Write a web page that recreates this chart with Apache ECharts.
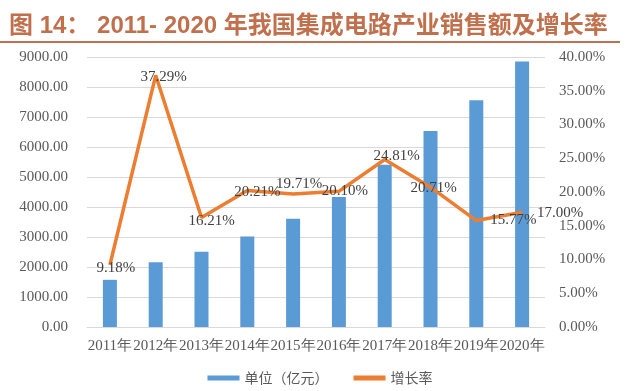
<!DOCTYPE html>
<html><head><meta charset="utf-8">
<script src="https://cdn.jsdelivr.net/npm/echarts@6/dist/echarts.min.js"></script>
<style>html,body{margin:0;padding:0;background:#fff;}#c{width:640px;height:391px;}</style>
</head><body><div id="c"></div>
<script>
const categories = ['2011年','2012年','2013年','2014年','2015年','2016年','2017年','2018年','2019年','2020年'];
const sales = [1572.4, 2158.5, 2508.5, 3015.4, 3609.8, 4335.5, 5411.3, 6532.0, 7562.3, 8848.0];
const growth = [9.18, 37.29, 16.21, 20.21, 19.71, 20.10, 24.81, 20.71, 15.77, 17.00];
const leftTicks = [0, 9000, 1000];
const rightTicks = [0, 40, 5];

// per-point label nudges (style only)
const labelNudge = [[6,3],[8,2],[10,3],[10,1],[6,-10],[6,0],[12,-3],[3,1],[37,0],[38,1]];

const serif = '"Liberation Serif", "Times New Roman", serif';
const chart = echarts.init(document.getElementById('c'));
chart.setOption({
  animation: false,
  title: {
    text: '图 14： 2011- 2020 年我国集成电路产业销售额及增长率',
    left: 4, top: 9,
    textStyle: {color: '#c0704c', fontSize: 24, fontWeight: 'bold',
      fontFamily: '"Liberation Sans", "Noto Sans CJK SC", sans-serif'}
  },
  graphic: [{type: 'line', shape: {x1: 0, y1: 42, x2: 620, y2: 42},
    style: {stroke: '#c0704c', lineWidth: 2}}],
  grid: {left: 87, right: 95, top: 57, bottom: 64},
  legend: {
    bottom: 1, left: 'center', itemGap: 25, itemWidth: 32, itemHeight: 5,
    textStyle: {color: '#595959', fontSize: 14, fontFamily: '"Noto Sans CJK SC", sans-serif'},
    data: [{name: '单位（亿元）', icon: 'rect'}, {name: '增长率', icon: 'rect'}]
  },
  xAxis: {
    type: 'category', data: categories,
    axisLine: {lineStyle: {color: '#d9d9d9'}},
    axisTick: {show: false},
    axisLabel: {interval: 0, color: '#595959', fontSize: 15, fontFamily: serif, margin: 12}
  },
  yAxis: [{
    type: 'value', min: leftTicks[0], max: leftTicks[1], interval: leftTicks[2],
    axisLine: {show: false}, axisTick: {show: false},
    splitLine: {lineStyle: {color: '#d9d9d9'}},
    axisLabel: {color: '#595959', fontSize: 15, fontFamily: serif, margin: 19,
      formatter: v => v.toFixed(2)}
  }, {
    type: 'value', min: rightTicks[0], max: rightTicks[1], interval: rightTicks[2],
    axisLine: {show: false}, axisTick: {show: false}, splitLine: {show: false},
    axisLabel: {color: '#595959', fontSize: 15, fontFamily: serif, margin: 14,
      formatter: v => v.toFixed(2) + '%'}
  }],
  series: [{
    name: '单位（亿元）', type: 'bar', data: sales, barWidth: 14,
    itemStyle: {color: '#5b9bd5'}
  }, {
    name: '增长率', type: 'line', yAxisIndex: 1, symbol: 'circle', symbolSize: 0.1, showSymbol: true,
    lineStyle: {color: '#ed7d31', width: 3.5}, itemStyle: {color: '#ed7d31'},
    data: growth.map((v, i) => ({value: v, label: {offset: labelNudge[i]}})),
    label: {show: true, position: 'inside', color: '#404040', fontSize: 15, fontFamily: serif,
      formatter: p => p.value.toFixed(2) + '%'}
  }]
});
</script></body></html>
